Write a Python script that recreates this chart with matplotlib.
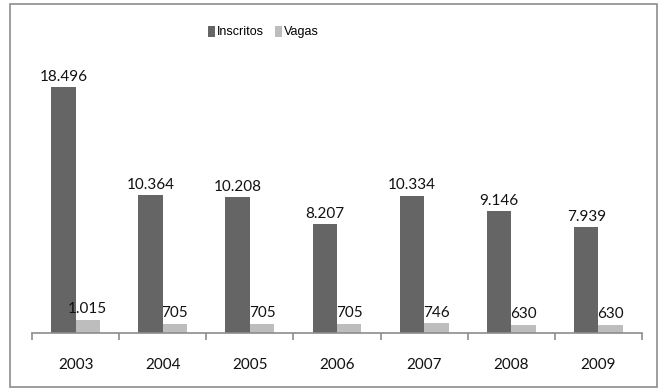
import numpy as np
import matplotlib.pyplot as plt
from matplotlib.patches import Rectangle

anos = ['2003', '2004', '2005', '2006', '2007', '2008', '2009']
inscritos = [18496, 10364, 10208, 8207, 10334, 9146, 7939]
vagas = [1015, 705, 705, 705, 746, 630, 630]
rotulos_insc = ['18.496', '10.364', '10.208', '8.207', '10.334', '9.146', '7.939']
rotulos_vagas = ['1.015', '705', '705', '705', '746', '630', '630']

cor_insc = '#656565'
cor_vagas = '#bdbdbd'

fig = plt.figure(figsize=(6.66, 3.91), dpi=100)
fig.patches.append(Rectangle((10 / 666, 4 / 391), 647 / 666, 383 / 391,
                             transform=fig.transFigure, fill=False,
                             edgecolor='#8c8c8c', linewidth=1.2))

ax = fig.add_axes([32 / 666, 1 - 333 / 391, 610 / 666, 266 / 391])
x = np.arange(len(anos))
w = 0.28
ax.bar(x - w / 2, inscritos, w, color=cor_insc, label='Inscritos')
ax.bar(x + w / 2, vagas, w, color=cor_vagas, label='Vagas')

for i in range(len(anos)):
    ax.text(x[i] - w / 2, inscritos[i] + 250, rotulos_insc[i], ha='center',
            va='bottom', fontsize=11, family='Lato', color='#111111')
    ax.text(x[i] + w / 2, vagas[i] + 250, rotulos_vagas[i], ha='center',
            va='bottom', fontsize=11, family='Lato', color='#111111')

ax.set_xlim(-0.5, len(anos) - 0.5)
ax.set_ylim(0, 20000)
ax.set_yticks([])
for s in ['top', 'right', 'left']:
    ax.spines[s].set_visible(False)
ax.spines['bottom'].set_color('#8c8c8c')
ax.spines['bottom'].set_linewidth(1.2)

ax.set_xticks(x)
ax.set_xticklabels(anos, fontsize=11, family='Lato', color='#111111')
ax.tick_params(axis='x', length=0, pad=18)
ax.set_xticks(np.arange(len(anos) + 1) - 0.5, minor=True)
ax.tick_params(axis='x', which='minor', length=5, width=1.2, color='#8c8c8c')

fig.legend(loc='center', bbox_to_anchor=(263 / 666, 1 - 32 / 391), ncol=2,
           frameon=False, handlelength=0.6, handleheight=1.0,
           handletextpad=0.1, columnspacing=0.9,
           prop={'family': 'Liberation Sans', 'size': 9})

fig.savefig('out.png', dpi=100)
